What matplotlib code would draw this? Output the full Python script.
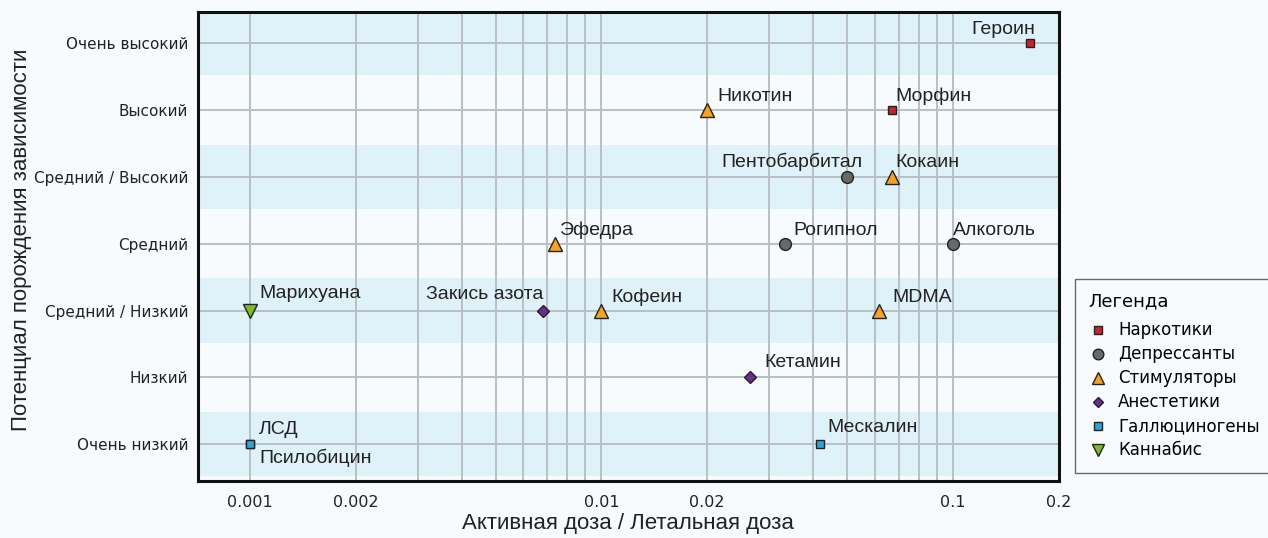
import matplotlib
matplotlib.use('Agg')
import matplotlib.pyplot as plt
from matplotlib.lines import Line2D

# categories on the y axis (bottom to top)
levels = ['Очень низкий', 'Низкий', 'Средний / Низкий', 'Средний',
          'Средний / Высокий', 'Высокий', 'Очень высокий']

classes = ['Наркотики', 'Депрессанты', 'Стимуляторы', 'Анестетики', 'Галлюциногены', 'Каннабис']

# substance, class, ratio (active / lethal dose), level index
names = ['Героин', 'Морфин', 'Никотин', 'Пентобарбитал', 'Кокаин', 'Эфедра', 'Рогипнол',
         'Алкоголь', 'Марихуана', 'Закись азота', 'Кофеин', 'MDMA', 'Кетамин',
         'ЛСД', 'Псилобицин', 'Мескалин']
kinds = ['Наркотики', 'Наркотики', 'Стимуляторы', 'Депрессанты', 'Стимуляторы', 'Стимуляторы',
         'Депрессанты', 'Депрессанты', 'Каннабис', 'Анестетики', 'Стимуляторы', 'Стимуляторы',
         'Анестетики', 'Галлюциногены', 'Галлюциногены', 'Галлюциногены']
ratios = [0.166, 0.067, 0.02, 0.05, 0.067, 0.0074, 0.0333, 0.1, 0.001, 0.0068, 0.01, 0.0615,
          0.0265, 0.001, 0.001, 0.0418]
levelIdx = [6, 5, 5, 4, 4, 3, 3, 3, 2, 2, 2, 2, 1, 0, 0, 0]

xticks = [0.001, 0.002, 0.01, 0.02, 0.1, 0.2]
xtickLabels = ['0.001', '0.002', '0.01', '0.02', '0.1', '0.2']
gridX = [0.001, 0.002, 0.003, 0.004, 0.005, 0.006, 0.007, 0.008, 0.009,
         0.01, 0.02, 0.03, 0.04, 0.05, 0.06, 0.07, 0.08, 0.09, 0.1, 0.2]

# label placement: (ha, dx px, baseline dy px)
labelPos = {
    'Героин': ('right', 5, 9), 'Морфин': ('left', 4, 9), 'Никотин': ('left', 10, 9),
    'Пентобарбитал': ('right', 15, 10), 'Кокаин': ('left', 4, 10), 'Эфедра': ('left', 5, 9),
    'Рогипнол': ('left', 8, 9), 'Алкоголь': ('left', 0, 9), 'Марихуана': ('left', 9, 13),
    'Закись азота': ('right', 1, 12), 'Кофеин': ('left', 10, 9), 'MDMA': ('left', 14, 9),
    'Кетамин': ('left', 14, 10), 'ЛСД': ('left', 9, 10), 'Псилобицин': ('left', 9, -19),
    'Мескалин': ('left', 8, 12),
}

styles = {
    'Наркотики': dict(marker='s', color='#d0202e', size=6),
    'Депрессанты': dict(marker='o', color='#686868', size=8.5),
    'Стимуляторы': dict(marker='^', color='#f6a323', size=10),
    'Анестетики': dict(marker='D', color='#6b2d90', size=6),
    'Галлюциногены': dict(marker='s', color='#27a6de', size=6),
    'Каннабис': dict(marker='v', color='#7dbb2a', size=10),
}

bg = '#f7fbfe'
band = '#dff1f9'
gridc = '#b8c0c4'
labelFont = ['Liberation Sans', 'DejaVu Sans']
px = 72 / 100

fig = plt.figure(figsize=(12.68, 5.38), dpi=100, facecolor=bg)
ax = fig.add_axes([0.156, 0.106, 0.679, 0.872])
ax.set_facecolor(bg)
ax.set_xscale('log')
ax.set_xlim(0.000711, 0.2)
ax.set_ylim(-0.55, 6.47)

for i in range(0, len(levels), 2):
    ax.axhspan(i - 0.48, i + 0.48, color=band, zorder=0, lw=0)

for gx in gridX:
    ax.axvline(gx, color=gridc, lw=1.4, zorder=1)
for i in range(len(levels)):
    ax.axhline(i, color=gridc, lw=1.4, zorder=1)

for n, k, r, li in zip(names, kinds, ratios, levelIdx):
    st = styles[k]
    ax.plot(r, li, marker=st['marker'], color=st['color'], markersize=st['size'],
            markeredgecolor='#222222', markeredgewidth=1.0, linestyle='none', zorder=3)
    ha, dx, dy = labelPos[n]
    ax.annotate(n, (r, li), xytext=(dx * px, dy * px), textcoords='offset points',
                ha=ha, va='baseline', fontsize=14, family=labelFont, color='#222222')

ax.set_xticks(xticks)
ax.set_xticklabels(xtickLabels)
ax.xaxis.set_minor_locator(matplotlib.ticker.NullLocator())
ax.set_yticks(range(len(levels)))
ax.set_yticklabels(levels)
ax.tick_params(axis='both', length=0, colors='#222222')
ax.tick_params(axis='x', pad=10, labelsize=11.5)
ax.tick_params(axis='y', pad=7, labelsize=11)

for s in ax.spines.values():
    s.set_linewidth(2.2)
    s.set_color('#111111')
    s.set_zorder(4)

ax.set_xlabel('Активная доза / Летальная доза', fontsize=16, family=labelFont,
              color='#222222', labelpad=2)
ax.set_ylabel('Потенциал порождения зависимости', fontsize=16, family=labelFont,
              color='#222222')
ax.yaxis.set_label_coords(-0.193, 0.513)

handles = []
for c in classes:
    st = styles[c]
    handles.append(Line2D([], [], marker=st['marker'], color=st['color'], linestyle='none',
                          markersize=st['size'] * 0.9, markeredgecolor='#222222',
                          markeredgewidth=1.0, label=c))
leg = fig.legend(handles=handles, title='Легенда', loc='upper left',
                 bbox_to_anchor=(1075 / 1268, 1 - 279 / 538), fontsize=12,
                 title_fontsize=13, frameon=True, fancybox=False, borderpad=0.8,
                 borderaxespad=0, handletextpad=0.6, labelspacing=0.36, handlelength=1.2)
leg.get_frame().set_edgecolor('#444444')
leg.get_frame().set_facecolor(bg)
leg.get_frame().set_linewidth(1.0)
leg._legend_box.align = 'left'
leg._legend_box.sep = 8

fig.savefig('out.png', dpi=100, facecolor=bg)
